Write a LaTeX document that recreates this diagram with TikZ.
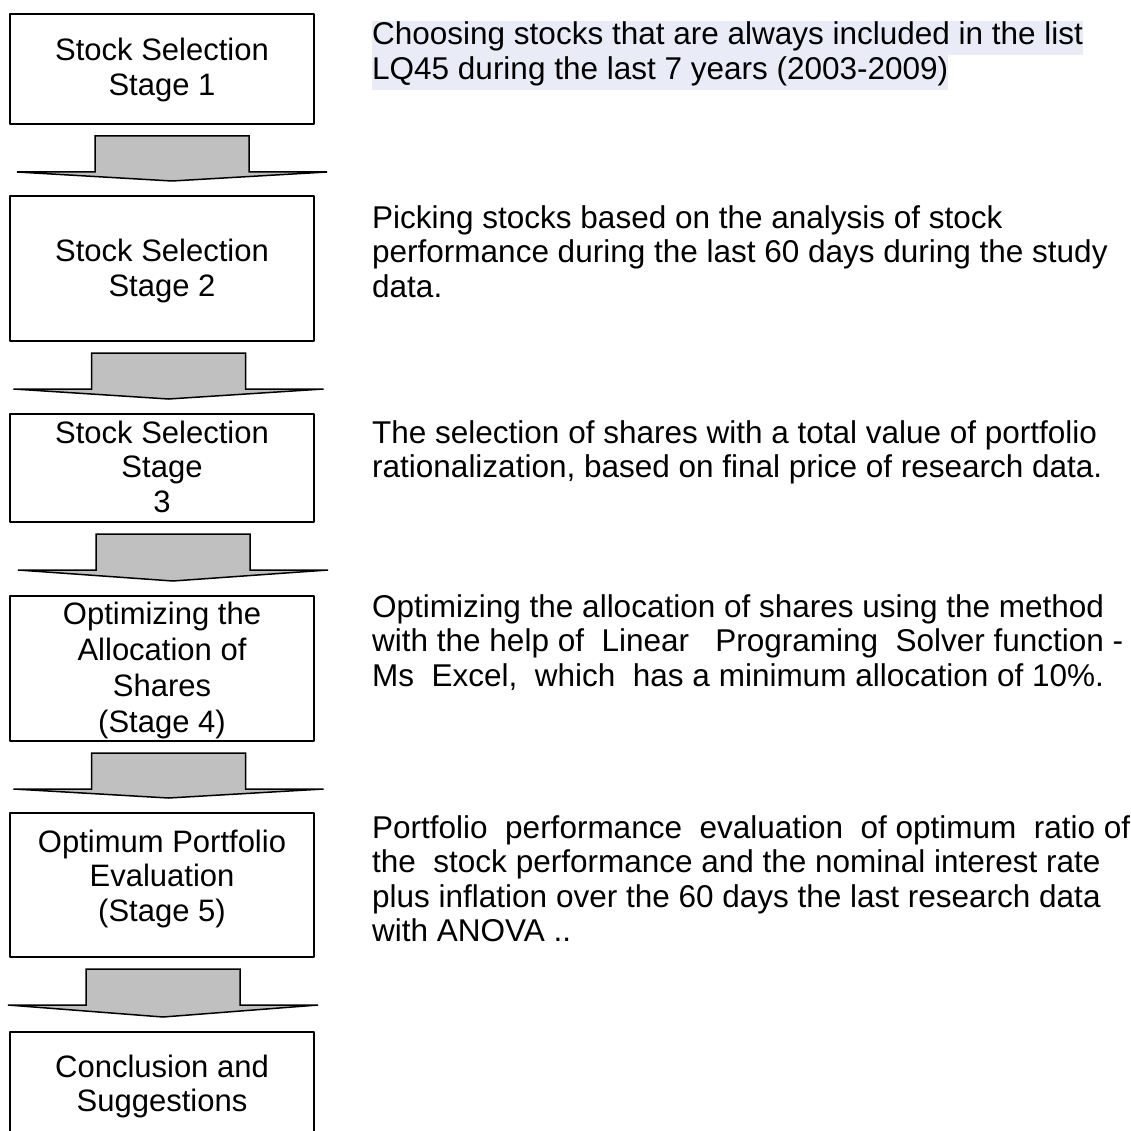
\documentclass[tikz,border=0pt]{standalone}
\usepackage{fontspec}
\setmainfont{Liberation Sans}
\usetikzlibrary{calc}
\definecolor{hilite}{RGB}{233,236,247}
\definecolor{arrowgray}{RGB}{192,192,192}
\tikzset{
	stagebox/.style={draw,line width=2pt,minimum width=304pt,inner sep=0pt},
	stagetext/.style={align=center,inner sep=0pt},
	stagearrow/.style={draw,fill=arrowgray,line width=1.5pt,line join=miter},
	note/.style={anchor=north west,inner sep=0pt,align=left,font=\fontsize{31.5}{34.5}\selectfont},
	hiline/.style={anchor=base west,fill=hilite,inner sep=0pt,text height=24pt,text depth=10.5pt,font=\fontsize{31.5}{34.5}\selectfont},
}
% block arrow from one stage box to the next, #1 = sideways shift
\newcommand{\stagearrow}[3][0]{%
	\draw[stagearrow] ($(#2.south)+(#1-77,11)$) -- ++(154,0) -- ++(0,36)
	-- ++(78,0) -- ($(#3.north)+(#1,-14)$) -- ($(#2.south)+(#1-155,47)$)
	-- ++(78,0) -- cycle;}
\begin{document}
\begin{tikzpicture}[x=1pt,y=-1pt,font=\fontsize{31}{34.5}\selectfont,line join=round]
	\useasboundingbox (0,0) rectangle (1131,1131);
	%Stage boxes
	\node[stagebox,minimum height=110pt] (s1) at (162,69) {};
	\node[stagebox,minimum height=145pt] (s2) at (162,268.5) {};
	\node[stagebox,minimum height=108pt] (s3) at (162,468) {};
	\node[stagebox,minimum height=145pt] (s4) at (162,668.5) {};
	\node[stagebox,minimum height=144pt] (s5) at (162,885) {};
	\node[stagebox,minimum height=101pt] (s6) at (162,1082.5) {};
	%Stage texts
	\node[stagetext] (t1) at (162,70) {Stock Selection\\Stage 1};
	\node[stagetext] (t2) at (162,271) {Stock Selection\\Stage 2};
	\node[stagetext] (t3) at (162,466.5) {Stock Selection\\Stage\\3};
	\node[stagetext,font=\fontsize{31}{36}\selectfont] (t4) at (162,670) {Optimizing the\\Allocation of\\Shares\\(Stage 4)};
	\node[stagetext] (t5) at (162,878.5) {Optimum Portfolio\\Evaluation\\(Stage 5)};
	\node[stagetext] (t6) at (162,1086.5) {Conclusion and\\Suggestions};
	%Arrows between stages
	\stagearrow[10]{s1}{s2}
	\stagearrow[6.5]{s2}{s3}
	\stagearrow[11]{s3}{s4}
	\stagearrow[6.5]{s4}{s5}
	\stagearrow[1]{s5}{s6}
	%Descriptions
	\node[hiline] (d1a) at (372,45) {Choosing stocks that are always included in the list};
	\node[hiline] (d1b) at (372,79.5) {LQ45 during the last 7 years (2003-2009)};
	\node[note] (d2) at (372,205) {Picking stocks based on the analysis of stock\\
		performance during the last 60 days during the study\\data.};
	\node[note] (d3) at (372,420) {The selection of shares with a total value of portfolio\\
		rationalization, based on final price of research data.};
	\node[note] (d4) at (372,594) {Optimizing the allocation of shares using the method\\
		with the help of\ \ Linear\ \ \ Programing\ \ Solver function -\\
		Ms\ \ Excel,\ \ which\ \ has a minimum allocation of 10\%.};
	\node[note] (d5) at (372,815) {Portfolio\ \ performance\ \ evaluation\ \ of optimum\ \ ratio of\\
		the\ \ stock performance and the nominal interest rate\\
		plus inflation over the 60 days the last research data\\
		with ANOVA ..};
\end{tikzpicture}
\end{document}
